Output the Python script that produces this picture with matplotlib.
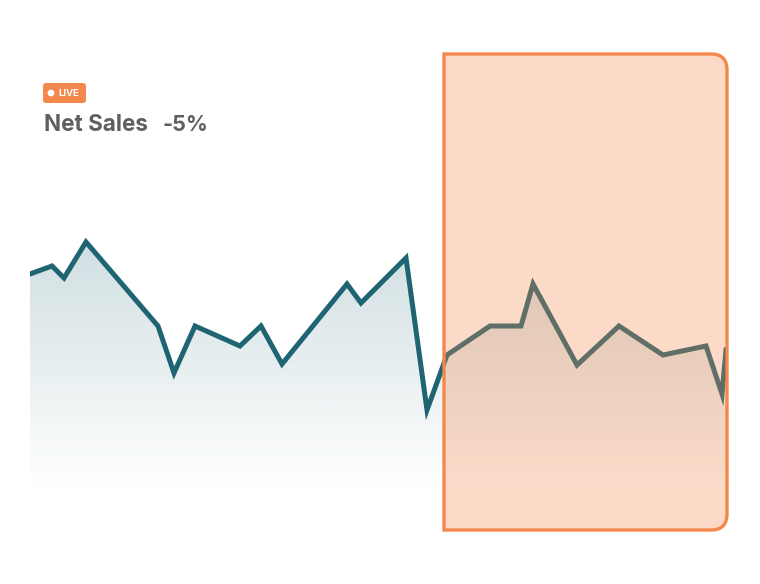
import numpy as np
import matplotlib.pyplot as plt
from matplotlib.path import Path
from matplotlib.patches import PathPatch, FancyBboxPatch, Circle, Polygon

# sales series (x = time offset, y = value)
days = [0, 22, 34, 56, 128, 144, 165, 210, 231, 252, 317, 331, 376, 397,
        417, 460, 491, 503, 547, 589, 633, 676, 692, 696]
sales = [216, 224, 212, 248, 164, 117, 164, 144, 164, 126, 206, 187, 232, 80,
         135, 164, 164, 206, 125, 164, 135, 144, 96, 140]
title = "Net Sales"
change = "-5%"
badge = "LIVE"

line_col = '#1f6472'
orange = '#f4874b'
text_col = '#5f5f5f'

W, H = 7.6, 5.84
fig = plt.figure(figsize=(W, H), dpi=100)
ax = fig.add_axes([30 / 760, (584 - 490) / 584, 696 / 760, 260 / 584])
ax.set_xlim(0, 696)
ax.set_ylim(0, 260)
ax.axis('off')

# gradient fill under the line
grad = np.zeros((256, 2, 4))
c = np.array([31, 100, 114]) / 255
grad[:, :, :3] = c
grad[:, :, 3] = np.linspace(0.0, 0.21, 256)[:, None]
img = ax.imshow(grad, extent=[0, 696, 0, 250], origin='lower', aspect='auto', zorder=1)
poly = Polygon(list(zip(days, sales)) + [(days[-1], 0), (days[0], 0)],
               closed=True, facecolor='none', edgecolor='none')
ax.add_patch(poly)
img.set_clip_path(poly)

ax.plot(days, sales, color=line_col, lw=3.6, solid_joinstyle='miter', zorder=2)

# highlight box, square left corners, rounded right corners (inches)
L, R, B, T, r = 4.44, 7.27, 0.54, 5.30, 0.16
verts = [(L, B), (R - r, B), (R, B), (R, B + r), (R, T - r), (R, T),
         (R - r, T), (L, T), (L, B)]
codes = [Path.MOVETO, Path.LINETO, Path.CURVE3, Path.CURVE3, Path.LINETO,
         Path.CURVE3, Path.CURVE3, Path.LINETO, Path.CLOSEPOLY]
hl = PathPatch(Path(verts, codes), facecolor=orange, alpha=0.3, edgecolor='none',
               transform=fig.dpi_scale_trans)
hl_edge = PathPatch(Path(verts, codes), facecolor='none', edgecolor=orange, lw=2.4,
                    transform=fig.dpi_scale_trans)
fig.patches.extend([hl, hl_edge])

# live badge
fig.patches.append(FancyBboxPatch((0.45, 4.83), 0.39, 0.16,
                                  boxstyle='round,pad=0.02,rounding_size=0.03',
                                  facecolor=orange, edgecolor='none',
                                  transform=fig.dpi_scale_trans))
fig.patches.append(Circle((0.51, 4.91), 0.027, color='white', transform=fig.dpi_scale_trans))
fig.text(0.585, 4.905, badge, transform=fig.dpi_scale_trans, color='white',
         fontsize=6.8, fontweight='bold', family='Inter', va='center')

fig.text(0.44, 4.53, title, transform=fig.dpi_scale_trans, color=text_col,
         fontsize=16.2, fontweight='bold', family='Inter', va='baseline')
fig.text(1.63, 4.53, change, transform=fig.dpi_scale_trans, color=text_col,
         fontsize=15.5, fontweight='bold', family='Inter', va='baseline')

fig.savefig('out.png', dpi=100)
